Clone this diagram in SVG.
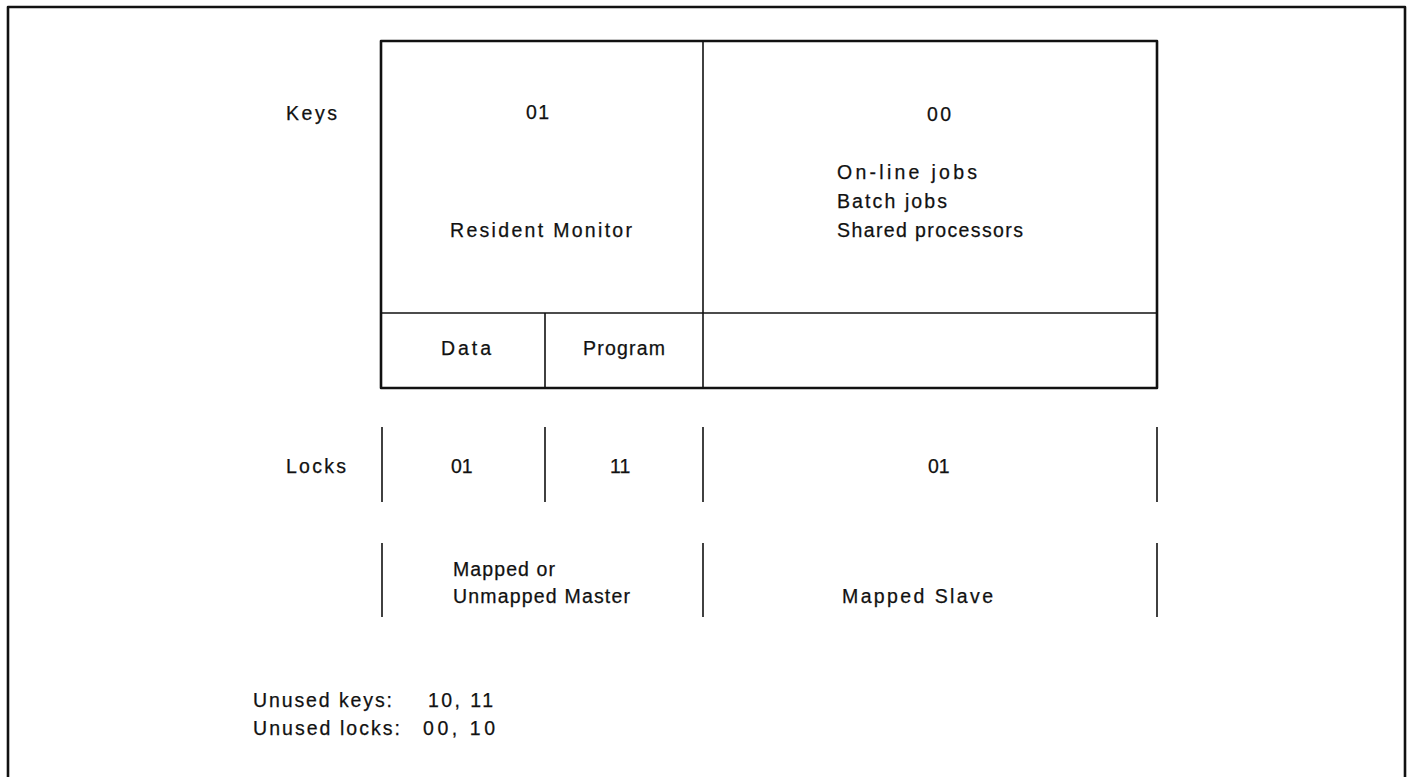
<svg xmlns="http://www.w3.org/2000/svg" width="1410" height="777" viewBox="0 0 1410 777">
  <style>
    .t { font-family: "Liberation Sans", Arial, sans-serif; font-size: 19.5px; fill: #111; stroke: #111; stroke-width: 0.25; }
    .thick { fill: none; stroke: #111; stroke-width: 2.6; stroke-linejoin: round; }
    .thin { fill: none; stroke: #111; stroke-width: 1.6; }
  </style>
  <rect x="0" y="0" width="1410" height="777" fill="#fff"/>

  <g id="frame">
    <path class="thick" d="M8,790 L8,7 L1405,7 L1405,790"/>
  </g>

  <g id="labels">
    <text class="t" x="286" y="120" textLength="51" lengthAdjust="spacing">Keys</text>
    <text class="t" x="286" y="473" textLength="60" lengthAdjust="spacing">Locks</text>
  </g>

  <g id="keys-box">
    <rect class="thick" x="381" y="41" width="776" height="347"/>
    <line class="thin" x1="703" y1="41" x2="703" y2="388"/>
    <line class="thin" x1="381" y1="313" x2="1157" y2="313"/>
    <line class="thin" x1="545" y1="313" x2="545" y2="388"/>
  </g>

  <g id="monitor-cell">
    <text class="t" x="526" y="119" textLength="23" lengthAdjust="spacing">01</text>
    <text class="t" x="450" y="237" textLength="182" lengthAdjust="spacing">Resident Monitor</text>
  </g>

  <g id="jobs-cell">
    <text class="t" x="927" y="121" textLength="24" lengthAdjust="spacing">00</text>
    <text class="t" x="837" y="179" textLength="140" lengthAdjust="spacing">On-line jobs</text>
    <text class="t" x="837" y="208" textLength="110" lengthAdjust="spacing">Batch jobs</text>
    <text class="t" x="837" y="237" textLength="186" lengthAdjust="spacing">Shared processors</text>
  </g>

  <g id="data-cell">
    <text class="t" x="441" y="355" textLength="50" lengthAdjust="spacing">Data</text>
  </g>
  <g id="program-cell">
    <text class="t" x="583" y="355" textLength="82" lengthAdjust="spacing">Program</text>
  </g>

  <g id="locks-row">
    <line class="thin" x1="382" y1="427" x2="382" y2="502"/>
    <line class="thin" x1="545" y1="427" x2="545" y2="502"/>
    <line class="thin" x1="703" y1="427" x2="703" y2="502"/>
    <line class="thin" x1="1157" y1="427" x2="1157" y2="502"/>
    <text class="t" x="451" y="473">01</text>
    <text class="t" x="610" y="473">11</text>
    <text class="t" x="928" y="473">01</text>
  </g>

  <g id="modes-row">
    <line class="thin" x1="382" y1="543" x2="382" y2="617"/>
    <line class="thin" x1="703" y1="543" x2="703" y2="617"/>
    <line class="thin" x1="1157" y1="543" x2="1157" y2="617"/>
    <text class="t" x="453" y="576" textLength="102" lengthAdjust="spacing">Mapped or</text>
    <text class="t" x="453" y="603" textLength="177" lengthAdjust="spacing">Unmapped Master</text>
    <text class="t" x="842" y="603" textLength="151" lengthAdjust="spacing">Mapped Slave</text>
  </g>

  <g id="notes">
    <text class="t" x="253" y="707" textLength="139" lengthAdjust="spacing">Unused keys:</text>
    <text class="t" x="428" y="707" textLength="65" lengthAdjust="spacing">10,  11</text>
    <text class="t" x="253" y="735" textLength="147" lengthAdjust="spacing">Unused locks:</text>
    <text class="t" x="423" y="735" textLength="72" lengthAdjust="spacing">00,  10</text>
  </g>
</svg>
